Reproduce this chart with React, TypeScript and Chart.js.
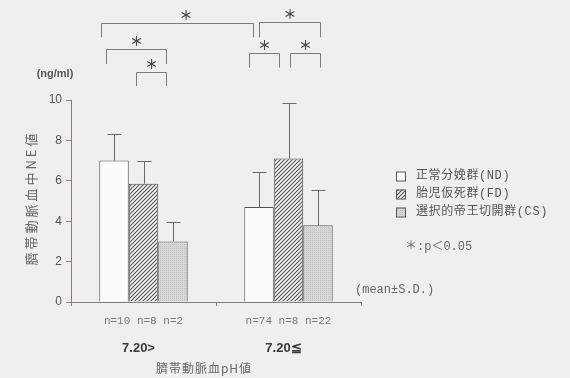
import { useEffect, useRef } from "react";
import { Chart, registerables } from "chart.js";
Chart.register(...registerables);

const categories = ["7.20>", "7.20≦"];
const nLabels = ["n=10 n=8 n=2", "n=74 n=8 n=22"];
const seriesNames = ["正常分娩群(ND)", "胎児仮死群(FD)", "選択的帝王切開群(CS)"];
const ndMean = [7.0, 4.7];
const ndSD = [1.3, 1.75];
const fdMean = [5.85, 7.1];
const fdSD = [1.15, 2.75];
const csMean = [3.0, 3.8];
const csSD = [0.95, 1.75];
const yTitle = "臍帯動脈血中NE値";
const xTitle = "臍帯動脈血pH値";
const unitLabel = "(ng/ml)";
const sigNote = "＊:p＜0.05";
const statNote = "(mean±S.D.)";

// significance brackets: x in category units, y in data units
const brackets = [
  { x1: -0.293, x2: 0.753, top: 13.83, leg: 13.1, starX: 0.293 },
  { x1: -0.261, x2: 0.155, top: 12.51, leg: 11.78 },
  { x1: -0.054, x2: 0.155, top: 11.4, leg: 10.69 },
  { x1: 0.799, x2: 1.217, top: 13.86, leg: 13.1 },
  { x1: 0.728, x2: 0.934, top: 12.34, leg: 11.6 },
  { x1: 1.01, x2: 1.217, top: 12.34, leg: 11.6 },
];

const CJK = '"Noto Sans CJK JP", sans-serif';
const MONO = '"Liberation Mono", "Noto Sans CJK JP", monospace';

function makeHatch(): CanvasPattern | string {
  const c = document.createElement("canvas");
  c.width = 4;
  c.height = 4;
  const g = c.getContext("2d");
  if (!g) return "#999";
  g.fillStyle = "#f8f8f8";
  g.fillRect(0, 0, 4, 4);
  g.strokeStyle = "#505050";
  g.lineWidth = 1.1;
  g.beginPath();
  g.moveTo(0, 4);
  g.lineTo(4, 0);
  g.moveTo(-1, 1);
  g.lineTo(1, -1);
  g.moveTo(3, 5);
  g.lineTo(5, 3);
  g.stroke();
  return g.createPattern(c, "repeat") || "#999";
}

function makeGray(): CanvasPattern | string {
  const c = document.createElement("canvas");
  c.width = 2;
  c.height = 2;
  const g = c.getContext("2d");
  if (!g) return "#d0d0d0";
  g.fillStyle = "#d6d6d6";
  g.fillRect(0, 0, 2, 2);
  g.fillStyle = "#c2c2c2";
  g.fillRect(0, 0, 1, 1);
  return g.createPattern(c, "repeat") || "#d0d0d0";
}

export default function App() {
  const ref = useRef<HTMLCanvasElement | null>(null);
  useEffect(() => {
    const canvas = ref.current;
    if (!canvas) return;
    const sds = [ndSD, fdSD, csSD];
    const means = [ndMean, fdMean, csMean];

    const overlay = {
      id: "overlay",
      beforeDraw(chart: any) {
        const { ctx, width, height } = chart;
        ctx.save();
        ctx.fillStyle = "#efefed";
        ctx.fillRect(0, 0, width, height);
        ctx.restore();
      },
      afterDatasetsDraw(chart: any) {
        const ctx = chart.ctx;
        const y = chart.scales.y;
        ctx.save();
        ctx.strokeStyle = "#6a6a6a";
        ctx.lineWidth = 1;
        means.forEach((m, di) => {
          const meta = chart.getDatasetMeta(di);
          meta.data.forEach((el: any, i: number) => {
            const top = y.getPixelForValue(m[i] + sds[di][i]);
            const x = Math.round(el.x) + 0.5;
            ctx.beginPath();
            ctx.moveTo(x, el.y);
            ctx.lineTo(x, Math.round(top) + 0.5);
            ctx.moveTo(x - 7, Math.round(top) + 0.5);
            ctx.lineTo(x + 7, Math.round(top) + 0.5);
            ctx.stroke();
          });
        });
        ctx.restore();
      },
      afterDraw(chart: any) {
        const ctx = chart.ctx;
        const xs = chart.scales.x;
        const ys = chart.scales.y;
        const area = chart.chartArea;
        ctx.save();
        // brackets
        ctx.strokeStyle = "#7a7a7a";
        ctx.lineWidth = 1;
        ctx.fillStyle = "#4a4a55";
        ctx.font = `bold 13px ${CJK}`;
        ctx.textAlign = "center";
        ctx.textBaseline = "middle";
        brackets.forEach((b) => {
          const x1 = Math.round(xs.getPixelForValue(b.x1)) + 0.5;
          const x2 = Math.round(xs.getPixelForValue(b.x2)) + 0.5;
          const t = Math.round(ys.getPixelForValue(b.top)) + 0.5;
          const l = ys.getPixelForValue(b.leg);
          ctx.beginPath();
          ctx.moveTo(x1, l);
          ctx.lineTo(x1, t);
          ctx.lineTo(x2, t);
          ctx.lineTo(x2, l);
          ctx.stroke();
          const sx = b.starX !== undefined ? xs.getPixelForValue(b.starX) : (x1 + x2) / 2;
          ctx.fillText("＊", sx, t - 8);
        });
        // unit label
        ctx.font = `bold 11px "Liberation Sans", sans-serif`;
        ctx.fillStyle = "#555";
        ctx.fillText(unitLabel, 55, 74);
        // y title (rotated)
        ctx.save();
        ctx.translate(31, (area.top + area.bottom) / 2 - 3);
        ctx.rotate(-Math.PI / 2);
        ctx.font = `13px ${CJK}`;
        (ctx as any).letterSpacing = "3px";
        ctx.fillStyle = "#666";
        ctx.fillText(yTitle, 0, 0);
        ctx.restore();
        // group labels
        ctx.font = `bold 13px "Liberation Sans", sans-serif`;
        ctx.fillStyle = "#3a3a3a";
        categories.forEach((c, i) => {
          ctx.fillText(c, xs.getPixelForValue(i) - 5, 348);
        });
        // x title
        ctx.save();
        ctx.font = `12px ${CJK}`;
        (ctx as any).letterSpacing = "1px";
        ctx.fillStyle = "#666";
        ctx.fillText(xTitle, 204, 368);
        ctx.restore();
        // legend
        ctx.textAlign = "left";
        chart.data.datasets.forEach((ds: any, i: number) => {
          const cy = 176 + i * 18;
          ctx.fillStyle = ds.backgroundColor;
          ctx.fillRect(396, cy - 4.5, 9, 9);
          ctx.strokeStyle = "#555";
          ctx.strokeRect(396.5, cy - 4, 9, 9);
          ctx.fillStyle = "#555";
          ctx.font = `12px ${MONO}`;
          (ctx as any).letterSpacing = "0.6px";
          ctx.fillText(ds.label, 416, cy);
        });
        (ctx as any).letterSpacing = "0px";
        ctx.font = `12px ${MONO}`;
        ctx.fillStyle = "#666";
        ctx.fillText(sigNote, 405, 247);
        ctx.fillText(statNote, 355, 290);
        ctx.restore();
      },
    };

    const chart = new Chart(canvas, {
      type: "bar",
      data: {
        labels: categories,
        datasets: [
          { label: seriesNames[0], data: ndMean, backgroundColor: "#fbfbfb", borderColor: "#555", borderWidth: 1 },
          { label: seriesNames[1], data: fdMean, backgroundColor: makeHatch() as any, borderColor: "#555", borderWidth: 1 },
          { label: seriesNames[2], data: csMean, backgroundColor: makeGray() as any, borderColor: "#555", borderWidth: 1 },
        ],
      },
      options: {
        animation: false,
        responsive: false,
        devicePixelRatio: 1,
        layout: { padding: { top: 100, left: 23, right: 209, bottom: 0 } },
        datasets: { bar: { categoryPercentage: 0.61, barPercentage: 1.0 } },
        plugins: { legend: { display: false }, tooltip: { enabled: false } },
        scales: {
          x: {
            offset: true,
            grid: { drawOnChartArea: false, drawTicks: true, tickLength: 4, color: "#8b7b7b", offset: true },
            border: { color: "#8b7b7b", width: 1 },
            ticks: {
              padding: 8,
              color: "#777",
              font: { family: '"Liberation Mono", monospace', size: 11 },
              callback: (_v: any, i: number) => nLabels[i],
            },
            afterFit: (s: any) => {
              s.height = 76;
            },
          },
          y: {
            min: 0,
            max: 10,
            ticks: { stepSize: 2, padding: 4, color: "#555", font: { family: '"Liberation Sans", sans-serif', size: 12 } },
            grid: { drawOnChartArea: false, drawTicks: true, tickLength: 5, color: "#8b7b7b" },
            border: { color: "#8b7b7b", width: 1 },
            afterFit: (s: any) => {
              s.width = 48;
            },
          },
        },
      },
      plugins: [overlay],
    } as any);
    return () => chart.destroy();
  }, []);
  return (
    <canvas
      ref={ref}
      width={570}
      height={378}
      style={{ position: "fixed", top: 0, left: 0, width: 570, height: 378 }}
    />
  );
}
